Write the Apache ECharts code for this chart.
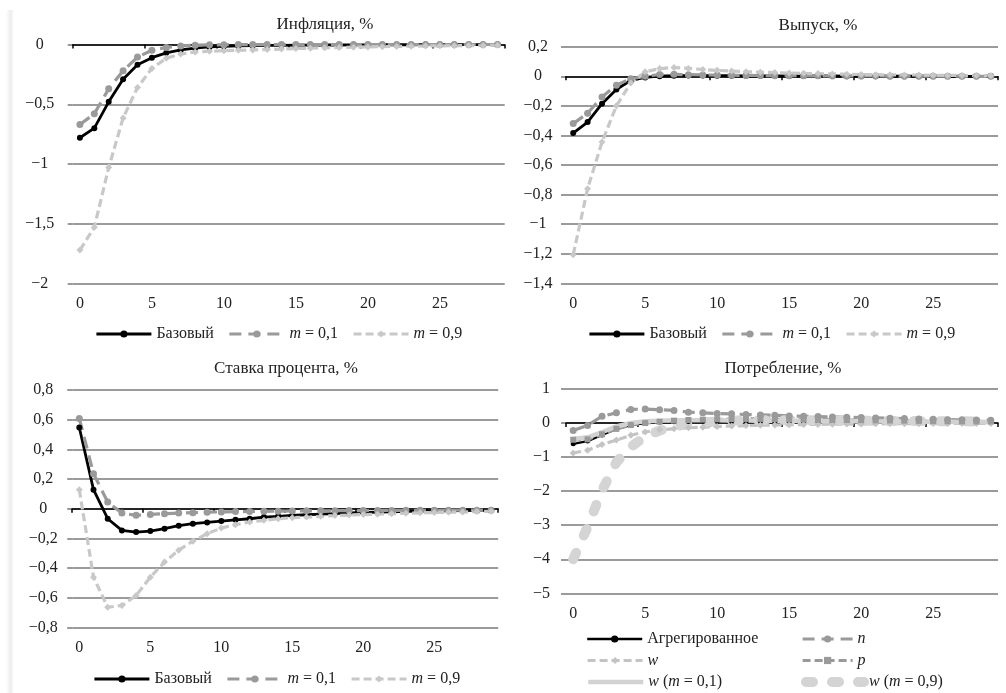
<!DOCTYPE html>
<html>
<head>
<meta charset="utf-8">
<script src="https://cdn.jsdelivr.net/npm/echarts@6/dist/echarts.min.js"></script>
<style>
html,body{margin:0;padding:0;background:#fff;}
#chart{width:1006px;height:693px;}
</style>
</head>
<body>
<div id="chart"></div>
<script>
// ---------- DATA ----------
const categories = ['0','1','2','3','4','5','6','7','8','9','10','11','12','13','14','15','16','17','18','19','20','21','22','23','24','25','26','27','28','29'];

const inflTicks = [-2, -1.5, -1, -0.5, 0];
const outTicks = [-1.4, -1.2, -1, -0.8, -0.6, -0.4, -0.2, 0, 0.2];
const rateTicks = [-0.8, -0.6, -0.4, -0.2, 0, 0.2, 0.4, 0.6, 0.8];
const consTicks = [-5, -4, -3, -2, -1, 0, 1];

const titles = ['Инфляция, %', 'Выпуск, %', 'Ставка процента, %', 'Потребление, %'];
const namesA = ['Базовый', 'm = 0,1', 'm = 0,9'];
const namesC = ['Агрегированное', 'n', 'w', 'p', 'w (m = 0,1)', 'w (m = 0,9)'];

const inflBase = [-0.78,-0.70,-0.48,-0.29,-0.17,-0.11,-0.07,-0.045,-0.03,-0.02,-0.015,-0.012,-0.01,-0.008,-0.007,-0.006,-0.005,-0.004,-0.004,-0.003,-0.003,-0.002,-0.002,-0.002,-0.001,-0.001,-0.001,-0.001,-0.001,-0.001];
const inflM01  = [-0.67,-0.58,-0.37,-0.22,-0.105,-0.048,-0.025,-0.012,-0.006,-0.003,-0.002,-0.001,-0.001,0,0,0,0,0,0,0,0,0,0,0,0,0,0,0,0,0];
const inflM09  = [-1.72,-1.53,-1.03,-0.615,-0.36,-0.20,-0.115,-0.08,-0.062,-0.056,-0.052,-0.048,-0.045,-0.042,-0.038,-0.034,-0.031,-0.028,-0.025,-0.022,-0.02,-0.018,-0.016,-0.014,-0.012,-0.011,-0.01,-0.009,-0.008,-0.007];

const outBase = [-0.384,-0.31,-0.185,-0.09,-0.027,-0.008,0.001,0.004,0.005,0.005,0.004,0.004,0.003,0.003,0.003,0.002,0.002,0.002,0.002,0.001,0.001,0.001,0.001,0.001,0.001,0.001,0,0,0,0];
const outM01  = [-0.32,-0.25,-0.14,-0.06,-0.016,0.0,0.012,0.013,0.011,0.009,0.008,0.007,0.006,0.005,0.004,0.004,0.003,0.003,0.002,0.002,0.002,0.002,0.001,0.001,0.001,0.001,0.001,0.001,0,0];
const outM09  = [-1.207,-0.76,-0.445,-0.20,-0.045,0.03,0.052,0.059,0.053,0.046,0.04,0.035,0.031,0.028,0.025,0.022,0.02,0.018,0.016,0.014,0.012,0.011,0.01,0.009,0.008,0.007,0.006,0.005,0.005,0.004];

const rateBase = [0.547,0.128,-0.068,-0.147,-0.158,-0.151,-0.135,-0.115,-0.101,-0.093,-0.084,-0.075,-0.068,-0.057,-0.052,-0.046,-0.041,-0.037,-0.033,-0.029,-0.026,-0.023,-0.021,-0.019,-0.017,-0.015,-0.014,-0.013,-0.012,-0.011];
const rateM01  = [0.608,0.236,0.045,-0.03,-0.045,-0.039,-0.034,-0.03,-0.027,-0.024,-0.022,-0.02,-0.019,-0.018,-0.017,-0.016,-0.015,-0.014,-0.014,-0.013,-0.013,-0.012,-0.012,-0.011,-0.011,-0.011,-0.01,-0.01,-0.01,-0.01];
const rateM09  = [0.128,-0.462,-0.665,-0.653,-0.586,-0.462,-0.36,-0.28,-0.219,-0.169,-0.131,-0.108,-0.09,-0.079,-0.068,-0.061,-0.057,-0.052,-0.047,-0.043,-0.04,-0.037,-0.034,-0.031,-0.028,-0.026,-0.024,-0.022,-0.02,-0.018];

const consAgg = [-0.61,-0.53,-0.35,-0.17,-0.06,0.0,0.03,0.04,0.045,0.045,0.045,0.044,0.043,0.042,0.04,0.038,0.036,0.034,0.032,0.03,0.028,0.026,0.025,0.024,0.022,0.021,0.02,0.019,0.018,0.017];
const consN   = [-0.22,-0.07,0.2,0.3,0.40,0.41,0.39,0.37,0.32,0.3,0.28,0.27,0.25,0.24,0.23,0.21,0.2,0.19,0.18,0.17,0.16,0.15,0.14,0.13,0.12,0.11,0.1,0.095,0.09,0.085];
const consW   = [-0.88,-0.8,-0.63,-0.5,-0.36,-0.26,-0.2,-0.17,-0.14,-0.12,-0.1,-0.085,-0.075,-0.065,-0.058,-0.05,-0.045,-0.04,-0.035,-0.03,-0.027,-0.024,-0.021,-0.019,-0.017,-0.015,-0.013,-0.012,-0.011,-0.01];
const consP   = [-0.49,-0.48,-0.33,-0.17,-0.06,0.0,0.04,0.07,0.09,0.1,0.11,0.115,0.12,0.12,0.115,0.11,0.105,0.1,0.095,0.09,0.085,0.08,0.075,0.07,0.065,0.06,0.055,0.05,0.048,0.045];
const consW01 = [-0.47,-0.42,-0.27,-0.1,0.0,0.05,0.07,0.08,0.08,0.08,0.08,0.075,0.072,0.07,0.067,0.064,0.06,0.057,0.054,0.051,0.048,0.045,0.043,0.041,0.039,0.037,0.035,0.033,0.031,0.03];
const consW09 = [-4.0,-3.05,-1.98,-1.15,-0.7,-0.4,-0.22,-0.1,-0.03,0.02,0.05,0.07,0.08,0.085,0.085,0.085,0.08,0.078,0.075,0.072,0.07,0.067,0.064,0.061,0.058,0.055,0.052,0.05,0.048,0.045];

// ---------- STYLE / LAYOUT ----------
const FONT = 'Liberation Serif';
const TXT = '#222';
const GRID_C = '#7a7a7a';

const grids = [
  {left: 72.7, top: 44.5, width: 432, height: 239},
  {left: 566, top: 46.7, width: 432, height: 236.6},
  {left: 72.2, top: 390, width: 426, height: 237.3},
  {left: 566, top: 389, width: 432, height: 204.3}
];
const yTickSets = [inflTicks, outTicks, rateTicks, consTicks];
const yLabelCfg = [
  {align: 'center', margin: 33},
  {align: 'center', margin: 28},
  {align: 'center', margin: 29},
  {align: 'right', margin: 16}
];

function fmt(v) {
  const s = String(+(+v).toFixed(2));
  return s.replace('-', '\u2212').replace('.', ',');
}

const xAxes = [], yAxes = [];
grids.forEach((g, i) => {
  xAxes.push({
    type: 'category', gridIndex: i, data: categories, boundaryGap: true, position: 'bottom', z: 1,
    axisLine: {onZero: true, lineStyle: {color: '#000', width: 1.5}},
    axisTick: {show: true, interval: 4, length: 4, lineStyle: {color: '#000', width: 1.5}},
    axisLabel: {show: false}, splitLine: {show: false}
  });
  xAxes.push({
    type: 'category', gridIndex: i, data: categories, boundaryGap: true, position: 'bottom',
    axisLine: {show: false, onZero: false}, axisTick: {show: false},
    axisLabel: {interval: 4, margin: 12, fontFamily: FONT, fontSize: 16, color: TXT},
    splitLine: {show: false}
  });
  const t = yTickSets[i];
  yAxes.push({
    type: 'value', gridIndex: i, z: 0,
    min: t[0], max: t[t.length - 1], interval: +(t[1] - t[0]).toFixed(3),
    axisLine: {show: false},
    axisTick: {show: true, length: 5, lineStyle: {color: GRID_C, width: 1.5}},
    splitLine: {lineStyle: {color: GRID_C, width: 1.5}},
    axisLabel: {formatter: fmt, align: yLabelCfg[i].align, margin: yLabelCfg[i].margin,
      fontFamily: FONT, fontSize: 16, color: TXT}
  });
});

function sBase(name, data, gi) {
  return {name, type: 'line', data, xAxisIndex: gi * 2, yAxisIndex: gi,
    symbol: 'circle', symbolSize: 6, showAllSymbol: true,
    lineStyle: {color: '#000', width: 2.8}, itemStyle: {color: '#000'}};
}
function sM01(name, data, gi) {
  return {name, type: 'line', data, xAxisIndex: gi * 2, yAxisIndex: gi,
    symbol: 'circle', symbolSize: 7, showAllSymbol: true,
    lineStyle: {color: '#9a9a9a', width: 3.2, type: [12, 7]}, itemStyle: {color: '#9a9a9a'}};
}
function sM09(name, data, gi) {
  return {name, type: 'line', data, xAxisIndex: gi * 2, yAxisIndex: gi,
    symbol: 'diamond', symbolSize: 7, showAllSymbol: true,
    lineStyle: {color: '#c8c8c8', width: 3.2, type: [8, 4]}, itemStyle: {color: '#c8c8c8'}};
}

const series = [
  sBase(namesA[0], inflBase, 0), sM01(namesA[1], inflM01, 0), sM09(namesA[2], inflM09, 0),
  sBase(namesA[0], outBase, 1), sM01(namesA[1], outM01, 1), sM09(namesA[2], outM09, 1),
  sBase(namesA[0], rateBase, 2), sM01(namesA[1], rateM01, 2), sM09(namesA[2], rateM09, 2),
  {name: namesC[0], type: 'line', data: consAgg, xAxisIndex: 6, yAxisIndex: 3,
    symbol: 'circle', symbolSize: 5, showAllSymbol: true,
    lineStyle: {color: '#000', width: 2.4}, itemStyle: {color: '#000'}},
  {name: namesC[1], type: 'line', data: consN, xAxisIndex: 6, yAxisIndex: 3,
    symbol: 'circle', symbolSize: 7, showAllSymbol: true,
    lineStyle: {color: '#9a9a9a', width: 3.2, type: [12, 7]}, itemStyle: {color: '#9a9a9a'}},
  {name: namesC[2], type: 'line', data: consW, xAxisIndex: 6, yAxisIndex: 3,
    symbol: 'diamond', symbolSize: 7, showAllSymbol: true,
    lineStyle: {color: '#c4c4c4', width: 3.2, type: [8, 4]}, itemStyle: {color: '#c4c4c4'}},
  {name: namesC[3], type: 'line', data: consP, xAxisIndex: 6, yAxisIndex: 3,
    symbol: 'rect', symbolSize: 6, showAllSymbol: true,
    lineStyle: {color: '#9a9a9a', width: 3.2, type: [8, 4]}, itemStyle: {color: '#9a9a9a'}},
  {name: namesC[4], type: 'line', data: consW01, xAxisIndex: 6, yAxisIndex: 3,
    symbol: 'none',
    lineStyle: {color: '#d2d2d2', width: 4.5}, itemStyle: {color: '#d2d2d2'}},
  {name: namesC[5], type: 'line', data: consW09, xAxisIndex: 6, yAxisIndex: 3,
    symbol: 'none',
    lineStyle: {color: '#d4d4d4', width: 10, type: [7, 19], cap: 'round'}, itemStyle: {color: '#d4d4d4'}}
];

const rich = {
  i: {fontStyle: 'italic', fontFamily: FONT, fontSize: 16, color: TXT},
  r: {fontFamily: FONT, fontSize: 16, color: TXT}
};
function legFmt(name) {
  const map = {
    'm = 0,1': '{i|m}{r| = 0,1}',
    'm = 0,9': '{i|m}{r| = 0,9}',
    'n': '{i|n}',
    'w': '{i|w}',
    'p': '{i|p}',
    'w (m = 0,1)': '{i|w}{r| (}{i|m}{r| = 0,1)}',
    'w (m = 0,9)': '{i|w}{r| (}{i|m}{r| = 0,9)}'
  };
  return map[name] || ('{r|' + name + '}');
}
function legend(left, top, data, iw) {
  return {left, top, data, orient: 'horizontal', padding: 0,
    itemWidth: iw || 55, itemHeight: 9, itemGap: 14,
    formatter: legFmt, selectedMode: false,
    lineStyle: {width: 'inherit'},
    textStyle: {fontFamily: FONT, fontSize: 16, color: TXT, rich}};
}
const noSym = {opacity: 0};

const option = {
  backgroundColor: '#fff',
  animation: false,
  title: [
    {text: titles[0], left: 325, top: 16, textAlign: 'center', padding: 0},
    {text: titles[1], left: 818, top: 17, textAlign: 'center', padding: 0},
    {text: titles[2], left: 286, top: 360, textAlign: 'center', padding: 0},
    {text: titles[3], left: 783, top: 360, textAlign: 'center', padding: 0}
  ].map(t => Object.assign(t, {textStyle: {fontFamily: FONT, fontSize: 17, fontWeight: 'normal', color: TXT}})),
  grid: grids,
  xAxis: xAxes,
  yAxis: yAxes,
  legend: [
    legend(95, 326, namesA),
    legend(588, 326, namesA),
    legend(93, 671, namesA),
    legend(586, 631, [namesC[0]]),
    legend(586, 652.5, [namesC[2]]),
    legend(586, 674, [{name: namesC[4], itemStyle: noSym}]),
    legend(801, 631, [namesC[1]], 50),
    legend(801, 652.5, [namesC[3]], 50),
    legend(801, 674, [{name: namesC[5], itemStyle: noSym}], 58)
  ],
  graphic: [{
    type: 'rect', z: -10, silent: true,
    shape: {x: 6, y: 10, width: 8, height: 683},
    style: {fill: new echarts.graphic.LinearGradient(0, 0, 1, 0, [
      {offset: 0, color: '#ffffff'}, {offset: 0.6, color: '#ececec'}, {offset: 1, color: '#ffffff'}])}
  }],
  series
};

const chart = echarts.init(document.getElementById('chart'));
chart.setOption(option);
</script>
</body>
</html>
